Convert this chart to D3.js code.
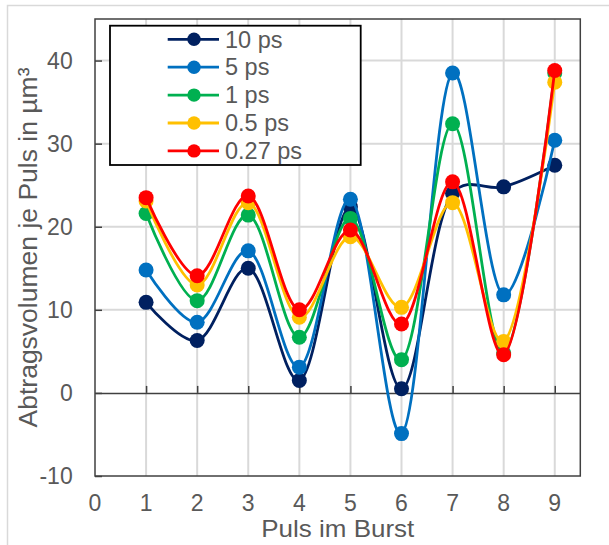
<!DOCTYPE html>
<html>
<head>
<meta charset="utf-8">
<script src="https://cdn.jsdelivr.net/npm/d3@7"></script>
<style>
  html, body { margin: 0; padding: 0; background: #fff; }
  svg { display: block; font-family: Arial, "Liberation Sans", sans-serif; }
</style>
</head>
<body>
<svg id="chart" width="609" height="545"></svg>
<script>
const pulses = [1, 2, 3, 4, 5, 6, 7, 8, 9];
const seriesNames = ["10 ps", "5 ps", "1 ps", "0.5 ps", "0.27 ps"];
const seriesColors = ["#002060", "#0070C0", "#00B050", "#FFC000", "#FF0000"];
const v10ps  = [10.9, 6.3, 15.0, 1.5, 22.4, 0.5, 24.0, 24.8, 27.4];
const v5ps   = [14.8, 8.5, 17.1, 3.1, 23.3, -4.9, 38.5, 11.8, 30.4];
const v1ps   = [21.6, 11.1, 21.4, 6.7, 21.0, 4.0, 32.4, 4.8, 38.5];
const v05ps  = [23.1, 13.0, 22.9, 9.1, 18.8, 10.3, 22.9, 6.2, 37.4];
const v027ps = [23.5, 14.1, 23.7, 10.0, 19.6, 8.3, 25.4, 4.6, 38.8];
const seriesValues = [v10ps, v5ps, v1ps, v05ps, v027ps];
const xTicks = [0, 1, 2, 3, 4, 5, 6, 7, 8, 9];
const yTicks = [-10, 0, 10, 20, 30, 40];
const xTitle = "Puls im Burst";
const yTitle = "Abtragsvolumen je Puls in µm³";

const svg = d3.select("#chart");
const pLeft = 95, pRight = 580.3, pTop = 19, pBottom = 476;
const x = d3.scaleLinear().domain([0, 9.5]).range([pLeft, pRight]);
const y = d3.scaleLinear().domain([-10, 45]).range([pBottom, pTop]);
const grid = "#d9d9d9", axisCol = "#404040", textCol = "#595959";

// outer chart border
svg.append("rect").attr("x", 7.5).attr("y", 5.5).attr("width", 620).attr("height", 560)
  .attr("fill", "none").attr("stroke", grid).attr("stroke-width", 1.5);

// gridlines
svg.append("g").selectAll("line").data(pulses).join("line")
  .attr("x1", d => x(d)).attr("x2", d => x(d)).attr("y1", pTop).attr("y2", pBottom)
  .attr("stroke", grid).attr("stroke-width", 2);
svg.append("g").selectAll("line").data(yTicks.filter(d => d > 0)).join("line")
  .attr("x1", pLeft).attr("x2", pRight).attr("y1", d => y(d)).attr("y2", d => y(d))
  .attr("stroke", grid).attr("stroke-width", 2);

// zero line with ticks (upward)
const zeroAxis = svg.append("g").attr("transform", `translate(0,${y(0)})`)
  .call(d3.axisTop(x).tickValues(pulses).tickSize(7).tickSizeOuter(0).tickFormat(""));
zeroAxis.select(".domain").attr("stroke", axisCol).attr("stroke-width", 1.5);
zeroAxis.selectAll(".tick line").attr("stroke", axisCol).attr("stroke-width", 1.5);

// y axis ticks (inward) and labels
const yAxis = svg.append("g").attr("transform", `translate(${pLeft},0)`)
  .call(d3.axisRight(y).tickValues(yTicks).tickSize(7).tickSizeOuter(0).tickFormat(""));
yAxis.select(".domain").remove();
yAxis.selectAll(".tick line").attr("stroke", axisCol).attr("stroke-width", 1.5);

svg.append("g").selectAll("text").data(yTicks).join("text")
  .attr("x", 72.7).attr("y", d => y(d)).attr("dy", "0.35em")
  .attr("text-anchor", "end").attr("font-size", 23).attr("fill", textCol)
  .text(d => d);

svg.append("g").selectAll("text").data(xTicks).join("text")
  .attr("x", d => x(d)).attr("y", 510.5)
  .attr("text-anchor", "middle").attr("font-size", 23).attr("fill", textCol)
  .text(d => d);

// plot border
svg.append("rect").attr("x", pLeft).attr("y", pTop).attr("width", pRight - pLeft).attr("height", pBottom - pTop)
  .attr("fill", "none").attr("stroke", axisCol).attr("stroke-width", 1.5);

// titles
svg.append("text").attr("x", 337.8).attr("y", 537).attr("text-anchor", "middle")
  .attr("font-size", 24).attr("textLength", 153).attr("lengthAdjust", "spacingAndGlyphs")
  .attr("fill", textCol).text(xTitle);
svg.append("text").attr("transform", "translate(36.5,247.5) rotate(-90)").attr("text-anchor", "middle")
  .attr("font-size", 26.5).attr("fill", textCol).text(yTitle);

// series
const line = d3.line().x((d, i) => x(pulses[i])).y(d => y(d)).curve(d3.curveCatmullRom.alpha(0.3));
seriesValues.forEach((vals, si) => {
  const g = svg.append("g");
  g.append("path").attr("d", line(vals)).attr("fill", "none")
    .attr("stroke", seriesColors[si]).attr("stroke-width", 2.8);
  g.selectAll("circle").data(vals).join("circle")
    .attr("cx", (d, i) => x(pulses[i])).attr("cy", d => y(d)).attr("r", 7.5)
    .attr("fill", seriesColors[si]);
});

// legend
const lg = svg.append("g");
lg.append("rect").attr("x", 110).attr("y", 25.7).attr("width", 250.7).attr("height", 139.3)
  .attr("fill", "#fff").attr("stroke", "#000").attr("stroke-width", 1.8);
seriesNames.forEach((name, i) => {
  const cy = 39.3 + i * 27.9;
  lg.append("line").attr("x1", 167.7).attr("x2", 219).attr("y1", cy).attr("y2", cy)
    .attr("stroke", seriesColors[i]).attr("stroke-width", 2.8);
  lg.append("circle").attr("cx", 194).attr("cy", cy).attr("r", 6.7).attr("fill", seriesColors[i]);
  lg.append("text").attr("x", 225).attr("y", cy).attr("dy", "0.35em")
    .attr("font-size", 23.5).attr("fill", textCol).text(name);
});
</script>
</body>
</html>
